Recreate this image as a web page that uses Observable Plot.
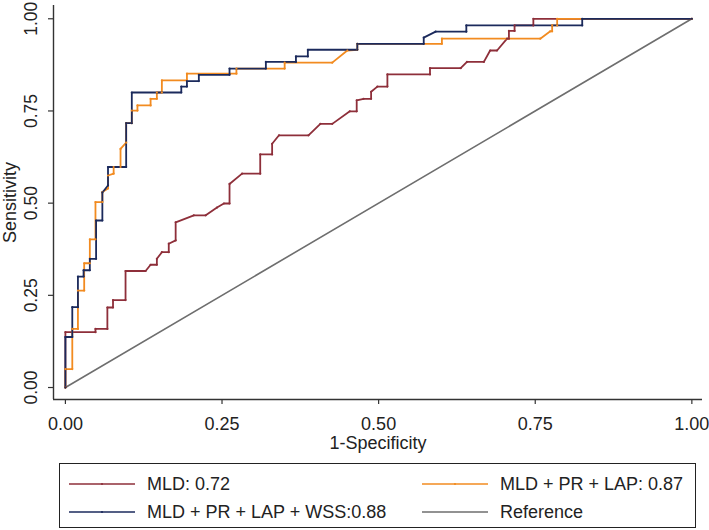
<!DOCTYPE html>
<html>
<head>
<meta charset="utf-8">
<script src="https://cdn.jsdelivr.net/npm/d3@7"></script>
<script src="https://cdn.jsdelivr.net/npm/@observablehq/plot@0.6"></script>
<style>
  html, body { margin: 0; padding: 0; background: #fff; }
  #wrap { position: relative; width: 709px; height: 530px; font-family: "Liberation Sans", Arial, Helvetica, sans-serif; color: #222; }
  #chart svg { display: block; }
  #legend { position: absolute; left: 59px; top: 463px; width: 637px; height: 65px; border: 1px solid #222; box-sizing: border-box; }
  .item { position: absolute; display: flex; align-items: center; font-size: 18px; line-height: 18px; white-space: nowrap; }
  .item svg { margin-right: 12px; }
</style>
</head>
<body>
<div id="wrap">
  <div id="chart"></div>
  <div id="legend"></div>
</div>
<script>
// ---- data ----
const xTicks = [0, 0.25, 0.5, 0.75, 1];
const yTicks = [0, 0.25, 0.5, 0.75, 1];
const xTitle = "1-Specificity";
const yTitle = "Sensitivity";

const seriesNames = ["MLD: 0.72", "MLD + PR + LAP: 0.87", "MLD + PR + LAP + WSS:0.88", "Reference"];
const seriesColors = ["#8E2F3A", "#F28B20", "#1B2A5C", "#6E6E6E"];

const mld = [
  [0,0],[0,0.150],[0.048,0.150],[0.048,0.159],[0.067,0.159],[0.067,0.217],[0.076,0.217],[0.076,0.237],
  [0.096,0.237],[0.096,0.316],[0.128,0.316],[0.136,0.333],[0.146,0.333],[0.146,0.349],[0.154,0.367],
  [0.165,0.367],[0.165,0.390],[0.176,0.399],[0.176,0.448],[0.205,0.467],[0.224,0.467],[0.242,0.488],
  [0.253,0.499],[0.262,0.499],[0.262,0.552],[0.282,0.580],[0.311,0.580],[0.311,0.632],[0.330,0.632],
  [0.330,0.661],[0.341,0.684],[0.388,0.684],[0.407,0.715],[0.426,0.715],[0.454,0.749],[0.465,0.749],
  [0.465,0.779],[0.476,0.783],[0.488,0.783],[0.488,0.802],[0.498,0.816],[0.514,0.816],[0.514,0.849],
  [0.582,0.849],[0.582,0.866],[0.631,0.866],[0.641,0.883],[0.668,0.883],[0.678,0.914],[0.689,0.914],
  [0.705,0.946],[0.708,0.946],[0.708,0.967],[0.717,0.967],[0.717,0.982],[0.747,0.982],[0.747,1],[1,1]
];

const mldPrLap = [
  [0,0],[0,0.05],[0.011,0.05],[0.011,0.159],[0.020,0.159],[0.020,0.263],[0.030,0.263],[0.030,0.337],
  [0.039,0.337],[0.039,0.402],[0.048,0.402],[0.048,0.503],[0.059,0.503],[0.059,0.530],[0.068,0.540],
  [0.068,0.575],[0.077,0.580],[0.077,0.598],[0.088,0.598],[0.088,0.647],[0.097,0.664],[0.097,0.717],
  [0.106,0.717],[0.106,0.751],[0.115,0.751],[0.115,0.765],[0.136,0.765],[0.136,0.783],[0.146,0.783],
  [0.146,0.800],[0.154,0.800],[0.154,0.833],[0.194,0.833],[0.194,0.851],[0.273,0.851],[0.273,0.865],
  [0.350,0.865],[0.350,0.881],[0.426,0.881],[0.450,0.914],[0.466,0.916],[0.466,0.932],[0.601,0.932],
  [0.601,0.946],[0.758,0.946],[0.774,0.966],[0.777,0.966],[0.777,0.982],[0.785,0.982],[0.785,1],[1,1]
];

const mldPrLapWss = [
  [0,0],[0,0.137],[0.011,0.137],[0.011,0.218],[0.020,0.218],[0.020,0.301],[0.029,0.301],[0.029,0.318],
  [0.039,0.318],[0.039,0.349],[0.049,0.349],[0.049,0.453],[0.059,0.453],[0.059,0.529],[0.068,0.548],
  [0.068,0.598],[0.097,0.598],[0.097,0.717],[0.106,0.717],[0.106,0.800],[0.185,0.800],[0.185,0.816],
  [0.194,0.816],[0.194,0.831],[0.213,0.831],[0.213,0.848],[0.262,0.848],[0.262,0.865],[0.320,0.865],
  [0.320,0.883],[0.368,0.883],[0.368,0.898],[0.387,0.898],[0.387,0.916],[0.466,0.916],[0.466,0.932],
  [0.572,0.932],[0.572,0.949],[0.591,0.965],[0.640,0.965],[0.640,0.982],[0.825,0.982],[0.825,1],[1,1]
];

const reference = [[0,0],[1,1]];

// ---- build table ----
const seriesData = [mld, mldPrLap, mldPrLapWss];
const rows = [];
seriesData.forEach((s, i) => s.forEach(([x, y], k) => rows.push({series: seriesNames[i], x, y, k})));
const refRows = reference.map(([x, y]) => ({series: seriesNames[3], x, y}));

const xDomain = [-0.019, 1.017];
const yDomain = [-0.0325, 1.036];
const fmt = d3.format(".2f");
const font = '"Liberation Sans", Arial, Helvetica, sans-serif';

const chart = Plot.plot({
  width: 709,
  height: 460,
  marginLeft: 53,
  marginRight: 7,
  marginTop: 5,
  marginBottom: 61,
  style: {fontFamily: font, fontSize: "18px", color: "#222", background: "#fff"},
  x: {domain: xDomain, label: null},
  y: {domain: yDomain, label: null},
  color: {domain: seriesNames, range: seriesColors},
  marks: [
    Plot.line(refRows, {x: "x", y: "y", stroke: "series", strokeWidth: 1.6}),
    ...seriesData.map((s, i) => Plot.line(rows.filter(r => r.series === seriesNames[i]), {x: "x", y: "y", stroke: "series", strokeWidth: 1.8})),
    ...seriesData.map((s, i) => Plot.dot(rows.filter(r => r.series === seriesNames[i]), {x: "x", y: "y", fill: "series", r: 1.1, stroke: null})),
    Plot.ruleX([xDomain[0]], {stroke: "#333", strokeWidth: 1.4}),
    Plot.ruleY([yDomain[0]], {stroke: "#333", strokeWidth: 1.4}),
    Plot.axisX(xTicks, {tickSize: 5, tickPadding: 13, tickFormat: fmt, stroke: "#333", strokeWidth: 1.2, label: null, fontSize: 18}),
    Plot.axisY(yTicks, {tickSize: 5, tickFormat: () => "", stroke: "#333", strokeWidth: 1.2, label: null}),
    Plot.text(yTicks, {y: d => d, frameAnchor: "left", dx: -22, rotate: -90, textAnchor: "middle", lineAnchor: "middle", text: d => fmt(d), fontSize: 17.5, fill: "#222"}),
    Plot.text([xTitle], {frameAnchor: "bottom", dy: 44, textAnchor: "middle", lineAnchor: "middle", text: d => d, fontSize: 18, fill: "#222"}),
    Plot.text([yTitle], {frameAnchor: "left", dx: -43, rotate: -90, textAnchor: "middle", lineAnchor: "middle", text: d => d, fontSize: 18, fill: "#222"})
  ]
});
document.getElementById("chart").appendChild(chart);

// ---- legend ----
const legend = document.getElementById("legend");
const legendPos = [
  {left: 9, top: 20},
  {left: 362, top: 20},
  {left: 9, top: 48},
  {left: 362, top: 48}
];
const legendOrder = [0, 1, 2, 3];
legendOrder.forEach((si, j) => {
  const it = document.createElement("div");
  it.className = "item";
  it.style.left = legendPos[j].left + "px";
  it.style.top = (legendPos[j].top - 9) + "px";
  const marker = si < 3 ? `<circle cx="33" cy="5" r="1.1" fill="${seriesColors[si]}"/>` : "";
  it.innerHTML = `<svg width="66" height="10"><line x1="0" y1="5" x2="66" y2="5" stroke="${seriesColors[si]}" stroke-width="1.7"/>${marker}</svg><span>${seriesNames[si]}</span>`;
  legend.appendChild(it);
});
</script>
</body>
</html>
